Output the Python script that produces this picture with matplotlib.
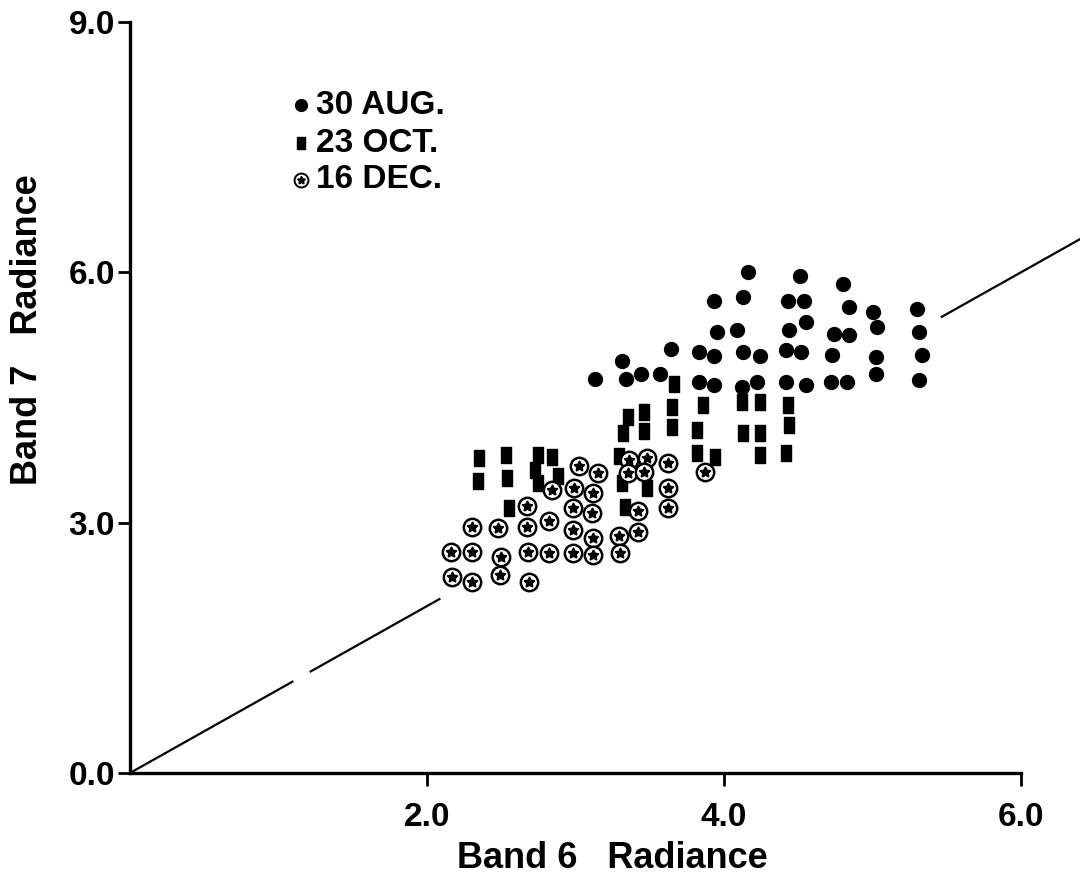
import numpy as np
import matplotlib.pyplot as plt
from matplotlib.lines import Line2D

plt.rcParams['font.family'] = ['Liberation Sans', 'DejaVu Sans']
plt.rcParams['font.weight'] = 'bold'

# 30 AUG. (filled dots)
aug_x = [3.13, 3.31, 3.34, 3.44, 3.57, 3.64, 3.83, 3.93, 3.83, 3.93, 3.95,
         3.93, 4.09, 4.13, 4.16, 4.13, 4.24, 4.12, 4.22, 4.42, 4.43, 4.44,
         4.42, 4.51, 4.54, 4.55, 4.52, 4.55, 4.80, 4.84, 4.74, 4.84, 4.73,
         4.72, 4.83, 5.00, 5.03, 5.02, 5.02, 5.30, 5.31, 5.33, 5.31]
aug_y = [4.72, 4.94, 4.72, 4.78, 4.78, 5.08, 5.05, 5.00, 4.68, 4.65, 5.28,
         5.66, 5.31, 5.70, 6.00, 5.05, 5.00, 4.63, 4.69, 5.07, 5.65, 5.31,
         4.68, 5.95, 5.66, 5.40, 5.05, 4.65, 5.86, 5.58, 5.26, 5.25, 5.01,
         4.68, 4.69, 5.53, 5.35, 4.99, 4.78, 5.56, 5.28, 5.01, 4.71]

# 23 OCT. (small bars)
oct_x = [2.35, 2.53, 2.75, 2.84, 2.34, 2.54, 2.73, 2.75, 2.88, 2.55, 3.29,
         3.32, 3.46, 3.31, 3.48, 3.33, 3.65, 3.66, 3.46, 3.35, 3.65, 3.86,
         4.12, 4.24, 3.82, 4.13, 4.24, 3.82, 3.94, 4.24, 4.43, 4.44, 4.42]
oct_y = [3.78, 3.81, 3.81, 3.79, 3.50, 3.54, 3.63, 3.48, 3.56, 3.18, 3.80,
         4.08, 4.10, 3.47, 3.42, 3.19, 4.14, 4.66, 4.33, 4.27, 4.39, 4.41,
         4.45, 4.45, 4.11, 4.08, 4.08, 3.84, 3.79, 3.81, 4.41, 4.17, 3.84]

# 16 DEC. (ringed stars)
dec_x = [2.30, 2.48, 2.67, 2.82, 2.67, 2.84, 2.99, 3.12, 3.02, 3.15, 2.98,
         3.11, 2.98, 3.12, 3.29, 3.42, 2.16, 2.30, 2.50, 2.68, 2.82, 2.98,
         3.12, 3.30, 2.17, 2.30, 2.49, 2.69, 3.36, 3.48, 3.35, 3.46, 3.42,
         3.62, 3.62, 3.62, 3.87]
dec_y = [2.95, 2.94, 2.95, 3.02, 3.20, 3.39, 3.41, 3.36, 3.68, 3.60, 3.18,
         3.12, 2.91, 2.82, 2.84, 2.89, 2.65, 2.65, 2.59, 2.65, 2.64, 2.63,
         2.61, 2.64, 2.35, 2.29, 2.37, 2.29, 3.75, 3.78, 3.60, 3.61, 3.14,
         3.71, 3.42, 3.17, 3.61]

# 1:1 line, broken where it passes under the data
line_segments = [(0.0, 1.10), (1.21, 2.09), (5.46, 6.45)]

legend_labels = ['30 AUG.', '23 OCT.', '16 DEC.']

bar = [(-0.33, -0.5), (0.33, -0.5), (0.33, 0.5), (-0.33, 0.5), (-0.33, -0.5)]
star = (5, 1, 0)

fig = plt.figure(figsize=(10.8, 8.85), dpi=100)
ax = fig.add_axes([0.1204, 0.1266, 0.8250, 0.8486])

for x0, x1 in line_segments:
    ax.plot([x0, x1], [x0, x1], color='black', lw=1.6, clip_on=False,
            solid_capstyle='butt', zorder=1)

ax.plot(oct_x, oct_y, ls='none', marker=bar, ms=11, color='black', zorder=2)
ax.plot(dec_x, dec_y, ls='none', marker='o', ms=12.5, mfc='white',
        mec='black', mew=1.8, zorder=3)
ax.plot(dec_x, dec_y, ls='none', marker=star, ms=8, color='black',
        zorder=4)
ax.plot(aug_x, aug_y, ls='none', marker='o', ms=10, color='black',
        zorder=5)

ax.set_xlim(0, 6.0)
ax.set_ylim(0, 9.0)
ax.set_xticks([2.0, 4.0, 6.0])
ax.set_xticklabels(['2.0', '4.0', '6.0'])
ax.set_yticks([0.0, 3.0, 6.0, 9.0])
ax.set_yticklabels(['0.0', '3.0', '6.0', '9.0'])
ax.tick_params(axis='both', direction='out', length=9, width=2,
               labelsize=24)
ax.tick_params(axis='x', pad=12)
ax.tick_params(axis='y', pad=2)

for side in ['top', 'right']:
    ax.spines[side].set_visible(False)
for side in ['left', 'bottom']:
    ax.spines[side].set_linewidth(2.4)

fig.text(612 / 1080, 1 - 858 / 885, 'Band 6   Radiance', fontsize=26,
         fontweight='bold', ha='center', va='center')
fig.text(28 / 1080, 1 - 330 / 885, 'Band 7   Radiance', fontsize=26,
         fontweight='bold', ha='center', va='center', rotation=90)

# legend drawn by hand: marker then label
rows = [105, 143, 180]
for label, row in zip(legend_labels, rows):
    yy = 1 - row / 885
    fig.text(316 / 1080, yy, label, fontsize=24, fontweight='bold',
             ha='left', va='center')

fig.add_artist(Line2D([301 / 1080], [1 - rows[0] / 885], marker='o', ms=8.5,
                      color='black', transform=fig.transFigure))
fig.add_artist(Line2D([301 / 1080], [1 - rows[1] / 885], marker=bar, ms=9,
                      color='black', transform=fig.transFigure))
fig.add_artist(Line2D([301 / 1080], [1 - rows[2] / 885], marker='o', ms=10,
                      mfc='white', mec='black', mew=1.4,
                      transform=fig.transFigure))
fig.add_artist(Line2D([301 / 1080], [1 - rows[2] / 885], marker=star, ms=6,
                      color='black', transform=fig.transFigure))

fig.savefig('out.png', dpi=100)
